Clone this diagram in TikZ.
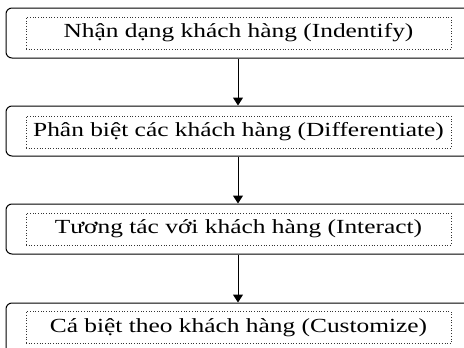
\documentclass[tikz,border=0pt]{standalone}
\usepackage{fontspec}
\setmainfont{Liberation Serif}[FakeStretch=1.27]
\usetikzlibrary{arrows.meta}
\begin{document}
\begin{tikzpicture}[x=1pt,y=-1pt,
  outerbox/.style={draw=black,line width=1pt,rounded corners=6pt,minimum width=464pt,minimum height=50pt,inner sep=0pt},
  innerbox/.style={draw=black!80,dotted,line width=0.7pt,minimum width=425pt,minimum height=32pt,inner sep=0pt,font=\fontsize{20}{22}\selectfont},
  conn/.style={line width=1pt,-{Triangle[length=8pt,width=10pt]}}]
\useasboundingbox (0,0) rectangle (464,348);
\clip (0,0) rectangle (464,348);
\fill[white] (0,0) rectangle (464,348);
\node[outerbox] (o1) at (238,33) {};
\node[outerbox] (o2) at (238,131) {};
\node[outerbox] (o3) at (238,229) {};
\node[outerbox] (o4) at (238,328) {};
\node[innerbox] (i1) at (238.5,33) {Nhận dạng khách hàng (Indentify)};
\node[innerbox] (i2) at (238.5,132) {Phân biệt các khách hàng (Differentiate)};
\node[innerbox] (i3) at (238.5,229) {Tương tác với khách hàng (Interact)};
\node[innerbox] (i4) at (238.5,327.5) {Cá biệt theo khách hàng (Customize)};
\draw[conn] (o1.south) -- (o2.north);
\draw[conn] (o2.south) -- (o3.north);
\draw[conn] (o3.south) -- (o4.north);
\end{tikzpicture}
\end{document}
